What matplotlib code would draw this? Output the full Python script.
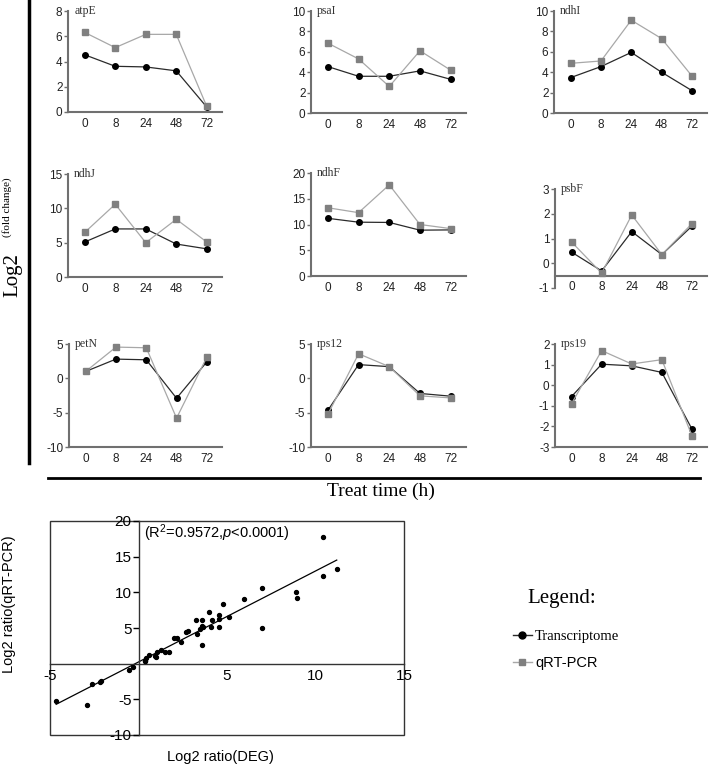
import numpy as np
import matplotlib.pyplot as plt
from matplotlib.lines import Line2D
from matplotlib.patches import Rectangle

plt.rcParams['font.family'] = 'Liberation Sans'
plt.rcParams['axes.unicode_minus'] = False
plt.rcParams['mathtext.fontset'] = 'custom'
plt.rcParams['mathtext.rm'] = 'Liberation Sans'
plt.rcParams['mathtext.it'] = 'Liberation Sans:italic'

# data
times = ['0', '8', '24', '48', '72']
genes = ['atpE', 'psaI', 'ndhI', 'ndhJ', 'ndhF', 'psbF', 'petN', 'rps12', 'rps19']

transcriptome = [
    [4.53, 3.62, 3.57, 3.26, 0.39],     # atpE
    [4.55, 3.60, 3.60, 4.13, 3.30],     # psaI
    [3.47, 4.55, 5.94, 4.00, 2.20],     # ndhI
    [5.10, 7.00, 7.00, 4.80, 4.10],     # ndhJ
    [11.20, 10.45, 10.40, 8.90, 8.95],  # ndhF
    [0.45, -0.31, 1.28, 0.35, 1.50],    # psbF
    [1.00, 2.80, 2.70, -2.90, 2.40],    # petN
    [-4.65, 2.00, 1.70, -2.20, -2.60],  # rps12
    [-0.55, 1.02, 0.94, 0.62, -2.13],   # rps19
]
qrt_pcr = [
    [6.30, 5.10, 6.15, 6.15, 0.44],
    [6.85, 5.30, 2.60, 6.10, 4.20],
    [4.87, 5.10, 9.10, 7.30, 3.64],
    [6.50, 10.60, 5.00, 8.40, 5.10],
    [13.25, 12.30, 17.70, 10.00, 9.20],
    [0.86, -0.40, 1.95, 0.35, 1.60],
    [1.00, 4.55, 4.45, -5.80, 3.10],
    [-5.25, 3.58, 1.70, -2.55, -2.85],
    [-0.90, 1.68, 1.03, 1.24, -2.46],
]
y_ranges = [(0, 8), (0, 10), (0, 10), (0, 15), (0, 20), (-1, 3), (-10, 5), (-10, 5), (-3, 2)]
y_steps = [2, 2, 2, 5, 5, 1, 5, 5, 1]

W, H = 709, 765
fig = plt.figure(figsize=(W / 100, H / 100), dpi=100)


def px(left, top, right, bottom):
    return [left / W, 1 - bottom / H, (right - left) / W, (bottom - top) / H]


# panel boxes in pixels (left, top, right, bottom)
boxes = [
    (68, 11, 222, 112), (311, 11, 466, 113), (554, 11, 707, 113),
    (68, 174, 222, 277), (311, 173, 466, 276), (555, 189, 707, 288),
    (69, 344, 222, 447), (311, 344, 466, 447), (555, 344, 707, 447),
]

x = np.arange(len(times))
for i, name in enumerate(genes):
    ax = fig.add_axes(px(*boxes[i]))
    ax.plot(x, transcriptome[i], color='#2a2a2a', lw=0.9, marker='o', ms=4,
            mfc='black', mec='black', zorder=3, clip_on=False)
    ax.plot(x, qrt_pcr[i], color='#a8a8a8', lw=0.9, marker='s', ms=4.5,
            mfc='#808080', mec='#808080', zorder=4, clip_on=False)
    lo, hi = y_ranges[i]
    ax.set_ylim(lo, hi)
    ax.set_yticks(np.arange(lo, hi + 0.1, y_steps[i]))
    ax.set_xlim(-0.55, 4.5)
    ax.set_xticks(x)
    ax.set_xticklabels(times)
    for s in ['top', 'right']:
        ax.spines[s].set_visible(False)
    for s in ['left', 'bottom']:
        ax.spines[s].set_color('#707070')
        ax.spines[s].set_linewidth(1.5)
    if name == 'psbF':
        ax.spines['bottom'].set_position(('data', -0.5))
    ax.tick_params(axis='x', length=0, labelsize=8.5, pad=4, labelcolor='#222222')
    ax.tick_params(axis='y', length=3, width=1, color='#707070', labelsize=8.5,
                   pad=1, labelcolor='#222222')
    ax.text(0.04, 1.0, name, transform=ax.transAxes, fontfamily='Liberation Serif',
            fontsize=8.5, ha='left', va='center', color='#333333')

# frame lines and shared labels
fig.add_artist(Line2D([29 / W, 29 / W], [1, 1 - 463 / H], color='black', lw=2.5))
fig.add_artist(Line2D([48 / W, 700 / W], [1 - 478 / H, 1 - 478 / H], color='black', lw=2))
fig.text(13 / W, 1 - 275 / H, 'Log2', rotation=90, fontfamily='Liberation Serif',
         fontsize=15, ha='center', va='center')
fig.text(7 / W, 1 - 207 / H, '(fold change)', rotation=90, fontfamily='Liberation Serif',
         fontsize=8, ha='center', va='center')
fig.text(381 / W, 1 - 491 / H, 'Treat time (h)', fontfamily='Liberation Serif',
         fontsize=14, ha='center', va='center')

# correlation scatter
xs_all = np.array(transcriptome).ravel()
ys_all = np.array(qrt_pcr).ravel()
slope, intercept = np.polyfit(xs_all, ys_all, 1)

sax = fig.add_axes(px(50, 521, 404, 735))
sax.scatter(xs_all, ys_all, s=8, color='black', zorder=3, clip_on=False)
fit_x = np.array([xs_all.min(), xs_all.max()])
sax.plot(fit_x, slope * fit_x + intercept, color='black', lw=0.9)
sax.set_xlim(-5, 15)
sax.set_ylim(-10, 20)
sax.spines['left'].set_position(('data', 0))
sax.spines['bottom'].set_position(('data', 0))
for s in ['top', 'right']:
    sax.spines[s].set_visible(False)
for s in ['left', 'bottom']:
    sax.spines[s].set_color('#333333')
    sax.spines[s].set_linewidth(1)
sax.add_patch(Rectangle((0, 0), 1, 1, transform=sax.transAxes, fill=False,
                        ec='#333333', lw=1, clip_on=False))
sax.set_xticks([-5, 5, 10, 15])
sax.set_yticks([-10, -5, 5, 10, 15, 20])
sax.tick_params(axis='x', length=0, labelsize=11, pad=4)
sax.tick_params(axis='y', length=4, width=1, labelsize=11, pad=1)
sax.text(0.3, 18.3, '(R$^2$=0.9572,$p$<0.0001)', fontsize=10.5, ha='left', va='center')
fig.text(220 / W, 1 - 757 / H, 'Log2 ratio(DEG)', fontsize=10.5, ha='center', va='center')
fig.text(9 / W, 1 - 604 / H, 'Log2 ratio(qRT-PCR)', fontsize=10.5, rotation=90,
         ha='center', va='center')

# legend
fig.text(562 / W, 1 - 599 / H, 'Legend:', fontfamily='Liberation Serif', fontsize=15,
         ha='center', va='center')
handles = [
    Line2D([], [], color='#2a2a2a', lw=1, marker='o', ms=5, mfc='black', mec='black'),
    Line2D([], [], color='#a8a8a8', lw=1, marker='s', ms=5, mfc='#808080', mec='#808080'),
]
leg = fig.legend(handles, ['Transcriptome', 'qRT-PCR'], loc='upper left',
                 bbox_to_anchor=(513 / W, 1 - 630 / H), frameon=False, fontsize=10.5,
                 handlelength=1.3, handletextpad=0.2, labelspacing=0.85,
                 borderpad=0, borderaxespad=0)
leg.get_texts()[0].set_fontfamily('Liberation Serif')
leg.get_texts()[1].set_fontfamily('Liberation Sans')

fig.savefig('out.png', dpi=100)
